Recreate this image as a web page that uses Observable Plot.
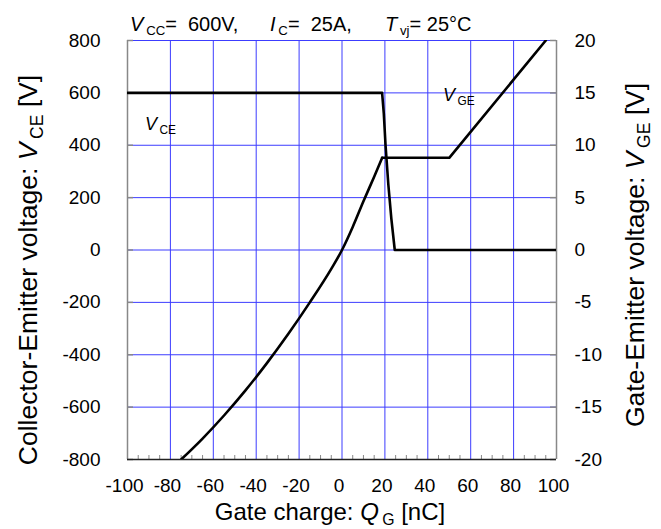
<!DOCTYPE html>
<html><head><meta charset="utf-8">
<script src="https://cdn.jsdelivr.net/npm/d3@7"></script>
<script src="https://cdn.jsdelivr.net/npm/@observablehq/plot@0.6"></script>
<style>body{margin:0;background:#fff} svg{display:block}</style>
</head><body><div id="chart"></div>
<script>
// ---- data ----
const qVCE = [-100, 18.7, 19.5, 20.3, 21.6, 23.0, 24.6, 100];
const vVCE = [600, 600, 520, 400, 250, 120, 0, 0];
// VGE: smooth rising part, then Miller plateau and linear rise
const qVGErise = [-75, -65, -55, -45, -35, -25, -15, -5, 0, 5, 10, 15, 18.7];
const vVGErise = [-20, -18, -15.8, -13.4, -10.8, -8.0, -5.0, -1.8, 0, 2.2, 4.65, 7.0, 8.8];
const qVGEplat = [18.7, 50, 95];
const vVGEplat = [8.8, 8.8, 20];
const xTicks = [-100, -80, -60, -40, -20, 0, 20, 40, 60, 80, 100];
const xMinor = [-95, -90, -85, -75, -70, -65, -55, -50, -45, -35, -30, -25, -15, -10, -5, 5, 10, 15, 25, 30, 35, 45, 50, 55, 65, 70, 75, 85, 90, 95];
const yTicks = [-800, -600, -400, -200, 0, 200, 400, 600, 800];
const vgeTicks = [-20, -15, -10, -5, 0, 5, 10, 15, 20];
const labelNames = [["V", "CE"], ["V", "GE"]];
const labelQ = [-91.6, 47.3];
const labelV = [456, 567]; // on the VCE scale
const K = 40; // VCE volts per VGE volt (800 V <-> 20 V)

const vceData = qVCE.map((q, i) => ({q, v: vVCE[i]}));
const vgeRise = qVGErise.map((q, i) => ({q, v: vVGErise[i]}));
const vgePlat = qVGEplat.map((q, i) => ({q, v: vVGEplat[i]}));
const yRight = vgeTicks.map(v => v * K);

const W = 661, H = 529, mL = 127, mR = 105, mT = 40, mB = 70;
const pw = W - mL - mR, ph = H - mT - mB;
const FONT = "'Liberation Sans', Arial, sans-serif";
const GRID = "#3c3cff";

const plot = Plot.plot({
  width: W, height: H,
  marginLeft: mL, marginRight: mR, marginTop: mT, marginBottom: mB,
  style: {fontFamily: FONT, fontSize: "19px", color: "#000", background: "#fff"},
  x: {domain: [-100, 100]},
  y: {domain: [-800, 800]},
  marks: [
    Plot.ruleX(xTicks, {x: d => d, stroke: GRID, strokeWidth: 1}),
    Plot.ruleY(yTicks, {y: d => d, stroke: GRID, strokeWidth: 1}),
    Plot.tickX(xMinor, {x: d => d, stroke: "#888", insetTop: ph - 4}),
    Plot.tickY(yTicks, {y: d => d, stroke: "#888", strokeWidth: 1.5, insetRight: pw - 6}),
    Plot.tickY(yRight, {y: d => d, stroke: "#888", strokeWidth: 1.5, insetLeft: pw - 6}),
    Plot.ruleX([-100], {x: d => d, stroke: "#888", strokeWidth: 1.5}),
    Plot.ruleX([100], {x: d => d, stroke: "#888", strokeWidth: 1.5}),
    Plot.ruleY([-800], {y: d => d, stroke: "#222", strokeWidth: 1.5}),
    Plot.line(vceData, {x: "q", y: "v", stroke: "#000", strokeWidth: 2.6, clip: true}),
    Plot.line(vgeRise, {x: "q", y: d => d.v * K, curve: "monotone-x", stroke: "#000", strokeWidth: 2.6, clip: true}),
    Plot.line(vgePlat, {x: "q", y: d => d.v * K, stroke: "#000", strokeWidth: 2.6, clip: true}),
    Plot.axisX(xTicks, {tickSize: 0, tickPadding: 19, dx: -3, label: null, tickFormat: d => String(d), fontSize: 19}),
    Plot.axisY(yTicks, {anchor: "left", tickSize: 0, tickPadding: 27, label: null, tickFormat: d => String(d), fontSize: 19}),
    Plot.axisY(yRight, {anchor: "right", tickSize: 0, tickPadding: 18, label: null, tickFormat: d => String(d / K), fontSize: 19})
  ]
});

const svg = d3.select(plot);
const sx = plot.scale("x"), sy = plot.scale("y");

// rich text helper: parts = [[text, "i"|"sub"|""], ...]
function rich(g, parts, F, anchor) {
  const t = g.append("text").attr("font-family", FONT).attr("font-size", F)
    .attr("fill", "#000").attr("text-anchor", anchor || "start");
  let shifted = false;
  parts.forEach(([txt, kind]) => {
    const s = t.append("tspan").text(txt);
    if (kind === "i") s.attr("font-style", "italic");
    if (kind === "sub") {
      s.attr("font-size", F * 0.66).attr("dx", F * 0.14);
      if (!shifted) { s.attr("dy", F * 0.22); shifted = true; }
    } else if (shifted) { s.attr("dy", -F * 0.22); shifted = false; }
  });
  return t;
}

// conditions line
const cond = [
  {x: 130, parts: [["V", "i"], ["CC", "sub"], ["=  600V,", ""]]},
  {x: 270, parts: [["I", "i"], ["C", "sub"], ["=  25A,", ""]]},
  {x: 385, parts: [["T", "i"], ["vj", "sub"], ["= 25°C", ""]]}
];
cond.forEach(c => rich(svg, c.parts, 20).attr("x", c.x).attr("y", 31));

// curve labels
labelNames.forEach(([a, b], i) => {
  rich(svg, [[a, "i"], [b, "sub"]], 18).attr("x", sx.apply(labelQ[i])).attr("y", sy.apply(labelV[i]));
});

// axis titles
rich(svg, [["Gate charge: ", ""], ["Q", "i"], ["G", "sub"], [" [nC]", ""]], 24, "middle")
  .attr("x", 330).attr("y", 520);
rich(svg, [["Collector-Emitter voltage: ", ""], ["V", "i"], ["CE", "sub"], [" [V]", ""]], 26.5, "middle")
  .attr("transform", "translate(37,270) rotate(-90)");
rich(svg, [["Gate-Emitter voltage: ", ""], ["V", "i"], ["GE", "sub"], [" [V]", ""]], 26.5, "middle")
  .attr("transform", "translate(644,255) rotate(-90)");

document.getElementById("chart").appendChild(plot);
</script>
</body></html>
